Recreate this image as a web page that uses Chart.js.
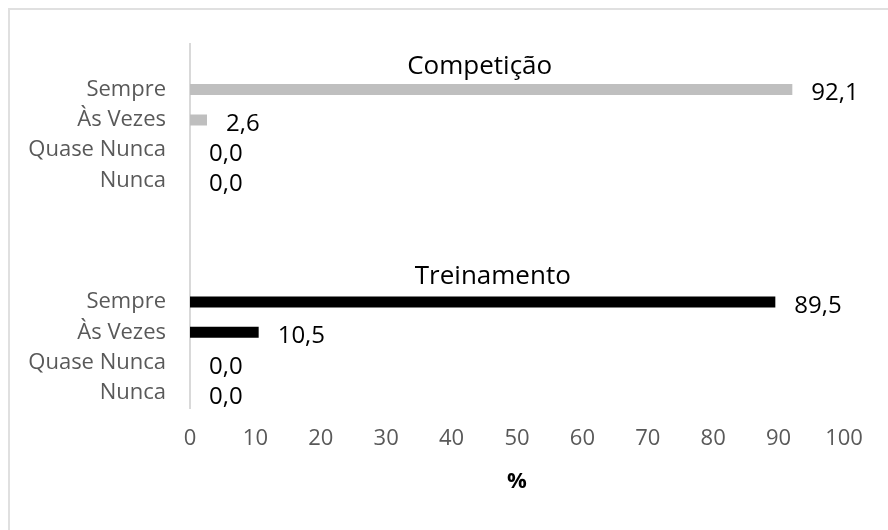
<!DOCTYPE html>
<html>
<head>
<meta charset="utf-8">
<script src="https://cdn.jsdelivr.net/npm/chart.js@4/dist/chart.umd.min.js"></script>
<style>
  html, body { margin: 0; padding: 0; background: #fff; }
  #wrap { width: 888px; height: 530px; position: relative; }
</style>
</head>
<body>
<div id="wrap"><canvas id="c" width="888" height="530"></canvas></div>
<script>
// Category slots (blank slots separate the two groups)
const categories = ["", "Sempre", "Às Vezes", "Quase Nunca", "Nunca", "", "", "", "Sempre", "Às Vezes", "Quase Nunca", "Nunca"];
// Series values (%)
const competicao  = [null, 92.1, 2.6, 0.0, 0.0, null, null, null, null, null, null, null];
const treinamento = [null, null, null, null, null, null, null, null, 89.5, 10.5, 0.0, 0.0];
// Group titles
const groupTitles = ["Competição", "Treinamento"];
// X tick range
const xMin = 0, xMax = 100, xStep = 10;
const xTitle = "%";

const FONT = "'Open Sans', 'Noto Sans', sans-serif";

const decorPlugin = {
  id: 'decor',
  beforeDraw(chart) {
    const ctx = chart.ctx;
    ctx.save();
    ctx.strokeStyle = '#e0e0e0';
    ctx.lineWidth = 2;
    ctx.strokeRect(9, 9, 900, 600);
    ctx.restore();
  },
  afterDatasetsDraw(chart) {
    const ctx = chart.ctx;
    const xs = chart.scales.x, ys = chart.scales.y;
    ctx.save();
    // value labels
    ctx.font = "24px " + FONT;
    ctx.fillStyle = '#000';
    ctx.textAlign = 'left';
    ctx.textBaseline = 'middle';
    chart.data.datasets.forEach((ds, di) => {
      const meta = chart.getDatasetMeta(di);
      meta.data.forEach((el, i) => {
        const v = ds.data[i];
        if (v === null || v === undefined) return;
        ctx.fillText(v.toFixed(1).replace('.', ','), el.x + 19, el.y + 4);
      });
    });
    // group titles
    ctx.font = "26px " + FONT;
    ctx.textAlign = 'center';
    ctx.fillText(groupTitles[0], xs.getPixelForValue(44.3), ys.getPixelForValue(0.25));
    ctx.fillText(groupTitles[1], xs.getPixelForValue(46.3), ys.getPixelForValue(7.15));
    ctx.restore();
  }
};

new Chart(document.getElementById('c'), {
  type: 'bar',
  data: {
    labels: categories,
    datasets: [
      { label: groupTitles[0], data: competicao, backgroundColor: '#bfbfbf', barThickness: 11, grouped: false, inflateAmount: 0, borderWidth: 0 },
      { label: groupTitles[1], data: treinamento, backgroundColor: '#000000', barThickness: 11, grouped: false, inflateAmount: 0, borderWidth: 0 }
    ]
  },
  options: {
    indexAxis: 'y',
    responsive: false,
    animation: false,
    devicePixelRatio: 1,
    layout: { padding: { top: 44, right: 44, bottom: 35, left: 0 } },
    plugins: { legend: { display: false }, tooltip: { enabled: false } },
    scales: {
      x: {
        min: xMin, max: xMax,
        ticks: { stepSize: xStep, color: '#595959', font: { family: FONT, size: 22 }, padding: 17 },
        grid: { display: false, drawTicks: false },
        border: { display: false },
        title: { display: true, text: xTitle, color: '#000', font: { family: FONT, size: 22, weight: 'bold' }, padding: { top: 0, bottom: 0 } }
      },
      y: {
        ticks: { color: '#595959', font: { family: FONT, size: 22 }, padding: 24, autoSkip: false },
        grid: { display: false, drawTicks: false },
        border: { display: true, color: '#d9d9d9', width: 2 },
        afterFit(scale) { scale.width = 190; }
      }
    }
  },
  plugins: [decorPlugin]
});
</script>
</body>
</html>
